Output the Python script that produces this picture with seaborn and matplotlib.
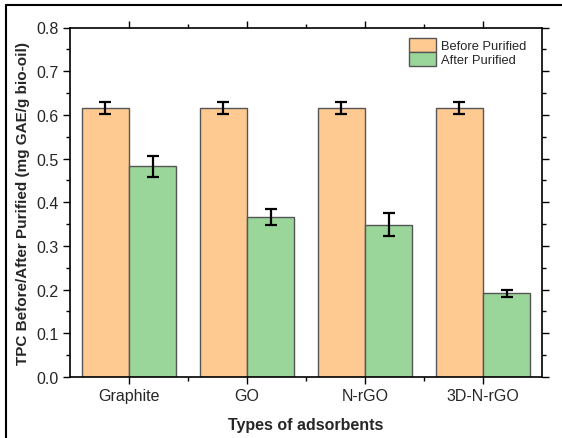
import numpy as np
import pandas as pd
import matplotlib.pyplot as plt
import seaborn as sns
from matplotlib.lines import Line2D
from matplotlib.ticker import MultipleLocator, FixedLocator, FormatStrFormatter

sns.set_theme(style="ticks")
plt.rcParams['font.family'] = ['Liberation Sans', 'DejaVu Sans']

adsorbents = ['Graphite', 'GO', 'N-rGO', '3D-N-rGO']
before_vals = [0.616, 0.616, 0.616, 0.616]
before_err = [0.014, 0.014, 0.014, 0.014]
after_vals = [0.482, 0.367, 0.349, 0.192]
after_err = [0.025, 0.018, 0.026, 0.008]
series = ['Before Purified', 'After Purified']

df = pd.DataFrame({
    'Adsorbent': adsorbents * 2,
    'Stage': [series[0]] * 4 + [series[1]] * 4,
    'TPC': before_vals + after_vals,
    'Err': before_err + after_err,
})

fig = plt.figure(figsize=(5.62, 4.39), dpi=100)
ax = fig.add_axes([70 / 562, 1 - 378 / 439, 472 / 562, 349.5 / 439])

sns.barplot(data=df, x='Adsorbent', y='TPC', hue='Stage', hue_order=series,
            palette=['#ffca91', '#9ad59a'], edgecolor='#555555', linewidth=1.0,
            width=0.8, errorbar=None, saturation=1, ax=ax)

# error bars at bar centres
for bars, (_, grp) in zip(ax.containers, df.groupby('Stage', sort=False)):
    xs = [b.get_x() + b.get_width() / 2 for b in bars]
    ax.errorbar(xs, grp['TPC'], yerr=grp['Err'], fmt='none', ecolor='black',
                elinewidth=1.6, capsize=4, capthick=1.6, zorder=5)

ax.set_xlim(-0.5, 3.5)
ax.set_ylim(0, 0.8)
ax.yaxis.set_major_locator(MultipleLocator(0.1))
ax.yaxis.set_minor_locator(MultipleLocator(0.05))
ax.yaxis.set_major_formatter(FormatStrFormatter('%.1f'))
ax.xaxis.set_minor_locator(FixedLocator([0.5, 1.5, 2.5]))

for s in ax.spines.values():
    s.set_visible(True)
    s.set_linewidth(1.2)
    s.set_color('black')
ax.tick_params(which='both', direction='out', top=True, right=True,
               labeltop=False, labelright=False, color='black', width=1.0)
ax.tick_params(which='major', length=5, labelsize=11.5, pad=3)
ax.tick_params(which='minor', length=3)

ax.set_xlabel('Types of adsorbents', fontsize=11.5, fontweight='bold', labelpad=10)
ax.set_ylabel('TPC Before/After Purified (mg GAE/g bio-oil)', fontsize=11,
              fontweight='bold', labelpad=5)

leg = ax.legend(loc='upper right', frameon=False, fontsize=9.3,
                handlelength=2.1, handleheight=1.2, handletextpad=0.35,
                labelspacing=0.0, borderaxespad=0.3, bbox_to_anchor=(0.985, 0.995))
for h in leg.legend_handles:
    h.set_edgecolor('#555555')

# frame lines of the original picture (top and left)
fig.add_artist(Line2D([6 / 562, 1], [1 - 6 / 439, 1 - 6 / 439], color='black', lw=1.5))
fig.add_artist(Line2D([6 / 562, 6 / 562], [0, 1 - 6 / 439], color='black', lw=1.5))

fig.savefig('out.png', dpi=100)
